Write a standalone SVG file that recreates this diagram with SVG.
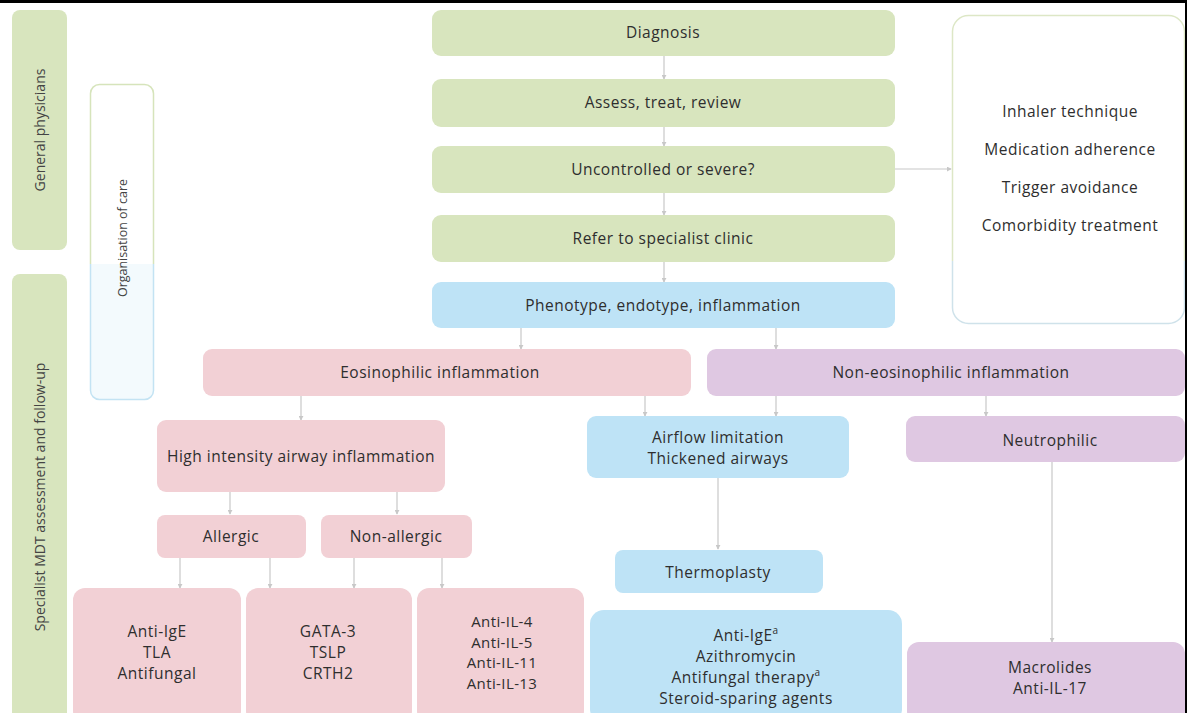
<svg xmlns="http://www.w3.org/2000/svg" width="1187" height="713" viewBox="0 0 1187 713">
<style>
.t{font-family:"Open Sans","Liberation Sans",sans-serif;font-size:15.5px;letter-spacing:0.5px;fill:#2e2e2e;text-anchor:middle;dominant-baseline:central}
.s{font-size:15px;letter-spacing:0.4px}
.l{font-family:"Open Sans","Liberation Sans",sans-serif;font-size:14px;fill:#444;text-anchor:middle;dominant-baseline:central}
.g{fill:#d8e5be}
.p{fill:#f2d0d5}
.b{fill:#bee3f6}
.v{fill:#dfc8e2}
.c{stroke:#c8c8c8;stroke-width:1.2;fill:none;marker-end:url(#ah)}
</style>
<defs>
<marker id="ah" viewBox="0 0 6 6" refX="5" refY="3" markerWidth="5" markerHeight="5" orient="auto" markerUnits="userSpaceOnUse">
<path d="M0,0 L6,3 L0,6 z" fill="#c8c8c8"/>
</marker>
<linearGradient id="orgFill" gradientUnits="userSpaceOnUse" x1="0" y1="84" x2="0" y2="400">
<stop offset="0" stop-color="#ffffff"/><stop offset="0.57" stop-color="#ffffff"/><stop offset="0.57" stop-color="#f3fafd"/><stop offset="1" stop-color="#f3fafd"/>
</linearGradient>
<linearGradient id="orgStroke" gradientUnits="userSpaceOnUse" x1="0" y1="84" x2="0" y2="400">
<stop offset="0" stop-color="#d6e4bb"/><stop offset="0.57" stop-color="#d6e4bb"/><stop offset="0.57" stop-color="#c3e3f3"/><stop offset="1" stop-color="#c3e3f3"/>
</linearGradient>
<linearGradient id="rStroke" gradientUnits="userSpaceOnUse" x1="0" y1="15" x2="0" y2="323">
<stop offset="0" stop-color="#dde7c6"/><stop offset="0.8" stop-color="#dde7c6"/><stop offset="0.8" stop-color="#cfe2ea"/><stop offset="1" stop-color="#cfe2ea"/>
</linearGradient>
</defs>
<rect x="0" y="0" width="1187" height="713" fill="#ffffff"/>
<rect x="0" y="0" width="1187" height="3" fill="#000"/>

<g id="lane-general"><rect class="g" x="12" y="10" width="55" height="240" rx="8"/><text class="l" transform="translate(39,130) rotate(-90)">General physicians</text></g>
<g id="lane-specialist"><rect class="g" x="12" y="274" width="55" height="450" rx="8"/><text class="l" transform="translate(39,497) rotate(-90)">Specialist MDT assessment and follow-up</text></g>
<g id="org-care"><rect x="90.5" y="84.5" width="63" height="315" rx="9" fill="url(#orgFill)" stroke="url(#orgStroke)" stroke-width="1.5"/><text class="l" style="font-size:13px" transform="translate(122,238) rotate(-90)" textLength="118" lengthAdjust="spacingAndGlyphs">Organisation of care</text></g>

<g id="connectors">
<path class="c" d="M664,56 V79"/>
<path class="c" d="M664,127 V146"/>
<path class="c" d="M664,193 V215"/>
<path class="c" d="M664,262 V282"/>
<path class="c" d="M895,169 H951"/>
<path class="c" d="M521,328 V349"/>
<path class="c" d="M776,328 V349"/>
<path class="c" d="M301,396 V420"/>
<path class="c" d="M645,396 V416"/>
<path class="c" d="M776,396 V416"/>
<path class="c" d="M986,396 V416"/>
<path class="c" d="M230,492 V514"/>
<path class="c" d="M397,492 V514"/>
<path class="c" d="M718,478 V549"/>
<path class="c" d="M1052,461 V642"/>
<path class="c" d="M180,558 V588"/>
<path class="c" d="M270,558 V588"/>
<path class="c" d="M354,558 V588"/>
<path class="c" d="M442,558 V588"/>
</g>

<g id="diagnosis"><rect class="g" x="432" y="10" width="463" height="46" rx="9"/><text class="t" x="663" y="32">Diagnosis</text></g>
<g id="assess"><rect class="g" x="432" y="79" width="463" height="48" rx="9"/><text class="t" x="663" y="102">Assess, treat, review</text></g>
<g id="uncontrolled"><rect class="g" x="432" y="146" width="463" height="47" rx="9"/><text class="t" x="663" y="169">Uncontrolled or severe?</text></g>
<g id="refer"><rect class="g" x="432" y="215" width="463" height="47" rx="9"/><text class="t" x="663" y="238">Refer to specialist clinic</text></g>
<g id="phenotype"><rect class="b" x="432" y="282" width="463" height="46" rx="9"/><text class="t" x="663" y="305">Phenotype, endotype, inflammation</text></g>

<g id="checklist"><rect x="952.5" y="15.5" width="232" height="308" rx="16" fill="#ffffff" stroke="url(#rStroke)" stroke-width="1.5"/>
<text class="t" x="1070" y="111">Inhaler technique</text>
<text class="t" x="1070" y="149">Medication adherence</text>
<text class="t" x="1070" y="187">Trigger avoidance</text>
<text class="t" x="1070" y="225">Comorbidity treatment</text></g>

<g id="eosinophilic"><rect class="p" x="203" y="349" width="488" height="47" rx="9"/><text class="t" x="440" y="372">Eosinophilic inflammation</text></g>
<g id="non-eosinophilic"><rect class="v" x="707" y="349" width="478" height="47" rx="9"/><text class="t" x="951" y="372">Non-eosinophilic inflammation</text></g>

<g id="high-intensity"><rect class="p" x="157" y="420" width="288" height="72" rx="9"/><text class="t" x="301" y="456">High intensity airway inflammation</text></g>
<g id="airflow"><rect class="b" x="587" y="416" width="262" height="62" rx="9"/><text class="t" x="718" y="437">Airflow limitation</text><text class="t" x="718" y="458">Thickened airways</text></g>
<g id="neutrophilic"><rect class="v" x="906" y="416" width="279" height="46" rx="9"/><text class="t" x="1050" y="440">Neutrophilic</text></g>

<g id="allergic"><rect class="p" x="157" y="515" width="149" height="43" rx="8"/><text class="t" x="231" y="536">Allergic</text></g>
<g id="non-allergic"><rect class="p" x="321" y="515" width="151" height="43" rx="8"/><text class="t" x="396" y="536">Non-allergic</text></g>
<g id="thermoplasty"><rect class="b" x="615" y="550" width="208" height="43" rx="8"/><text class="t" x="718" y="572">Thermoplasty</text></g>

<g id="allergic-tx"><rect class="p" x="73" y="588" width="168" height="135" rx="12"/><text class="t" x="157" y="631">Anti-IgE</text><text class="t" x="157" y="652">TLA</text><text class="t" x="157" y="673">Antifungal</text></g>
<g id="gata-tx"><rect class="p" x="246" y="588" width="166" height="135" rx="12"/><text class="t" x="328" y="631">GATA-3</text><text class="t" x="328" y="652">TSLP</text><text class="t" x="328" y="673">CRTH2</text></g>
<g id="il-tx"><rect class="p" x="417" y="588" width="167" height="135" rx="12"/><text class="t s" x="502" y="621">Anti-IL-4</text><text class="t s" x="502" y="641.5">Anti-IL-5</text><text class="t s" x="502" y="662">Anti-IL-11</text><text class="t s" x="502" y="682.5">Anti-IL-13</text></g>
<g id="airway-tx"><rect class="b" x="590" y="610" width="312" height="113" rx="14"/>
<text class="t" x="746" y="635">Anti-IgE<tspan font-size="10" dy="-5">a</tspan></text>
<text class="t" x="746" y="656">Azithromycin</text>
<text class="t" x="746" y="677">Antifungal therapy<tspan font-size="10" dy="-5">a</tspan></text>
<text class="t" x="746" y="698">Steroid-sparing agents</text></g>
<g id="neutro-tx"><rect class="v" x="907" y="642" width="278" height="81" rx="12"/><text class="t" x="1050" y="667">Macrolides</text><text class="t" x="1050" y="688">Anti-IL-17</text></g>
<rect x="1185" y="0" width="2" height="713" fill="#000"/>
</svg>
